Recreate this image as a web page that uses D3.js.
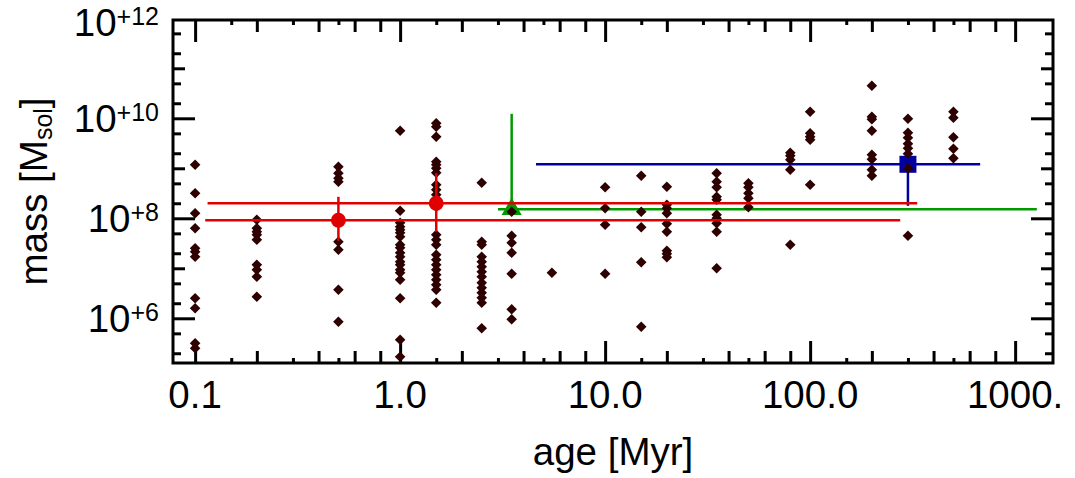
<!DOCTYPE html>
<html>
<head>
<meta charset="utf-8">
<script src="https://cdn.jsdelivr.net/npm/d3@7"></script>
<style>
  body { margin: 0; background: #fff; }
  text { font-family: "Liberation Sans", Arial, Helvetica, sans-serif; fill: #000; }
</style>
</head>
<body>
<svg id="chart" width="1075" height="478"></svg>
<script>
// age columns [Myr] and log10 of the masses in each column [Msol]
const ages = [0.1, 0.2, 0.5, 1.0, 1.5, 2.5, 3.5, 5.5, 10, 15, 20, 35, 50, 80, 100, 200, 300, 500];
const logMasses = [
    [9.07, 8.5, 8.1, 7.8, 7.4, 7.33, 7.23, 6.4, 6.2, 5.5, 5.4],
    [7.97, 7.8, 7.73, 7.67, 7.57, 7.07, 6.97, 6.83, 6.43],
    [9.03, 8.9, 8.8, 8.73, 7.97, 7.53, 7.37, 6.57, 5.93],
    [9.75, 8.15, 7.91, 7.83, 7.77, 7.71, 7.63, 7.47, 7.41, 7.31, 7.23, 7.13, 7.07, 6.97, 6.91, 6.77, 6.4, 5.57, 5.23],
    [9.9, 9.83, 9.63, 9.13, 9.07, 9.0, 8.91, 8.67, 8.57, 8.47, 8.37, 8.23, 7.67, 7.57, 7.47, 7.27, 7.17, 7.07, 6.97, 6.87, 6.77, 6.67, 6.57, 6.31],
    [8.71, 7.53, 7.47, 7.23, 7.13, 7.03, 6.93, 6.83, 6.71, 6.61, 6.51, 6.41, 6.31, 5.8],
    [8.13, 7.65, 7.51, 7.31, 6.89, 6.18, 5.98],
    [6.91],
    [8.62, 8.2, 7.87, 6.89],
    [8.85, 8.13, 7.82, 7.12, 5.83],
    [8.63, 8.27, 8.2, 8.1, 7.89, 7.73, 7.35, 7.29, 7.22],
    [8.9, 8.73, 8.62, 8.43, 8.37, 8.07, 8.0, 7.9, 7.73, 7.0],
    [8.7, 8.62, 8.5, 8.4, 8.22],
    [9.31, 9.25, 9.17, 8.97, 7.47],
    [10.13, 9.7, 9.63, 9.57, 8.67],
    [10.65, 10.03, 9.98, 9.75, 9.27, 9.18, 8.97, 8.85],
    [9.99, 9.71, 9.61, 9.49, 9.4, 9.29, 9.0, 7.65],
    [10.13, 10.01, 9.62, 9.39, 9.2]
];

// points with error bars (red, red, green, blue)
const errAge = [0.5, 1.5, 3.5, 300];
const errAgeLo = [0.112, 0.115, 3.0, 4.6];
const errAgeHi = [275, 333, 1276, 675];
const errLogMass = [7.96, 8.3, 8.18, 9.08];
const errLogMassLo = [7.55, 7.73, 8.18, 8.25];
const errLogMassHi = [8.43, 8.9, 10.09, 9.08];

// ticks
const xMajorTicks = [0.1, 1, 10, 100, 1000];
const xMajorLabels = ["0.1", "1.0", "10.0", "100.0", "1000."];
const xMidFactors = [2, 4, 6, 8];
const xSmallFactors = [1.5, 3, 5];
const yMajorTicks = [1e6, 1e8, 1e10, 1e12];
const yMajorExp = ["+6", "+8", "+10", "+12"];
const yMidTicks = [1e7, 1e9, 1e11];
const ySmallFactors = [2, 5];

const W = 1075, H = 478;
const plotL = 173, plotR = 1053, plotT = 20, plotB = 363;
const fontSize = 38.5, supSize = 25;
const diamondColor = "#2e0000";
const errColors = ["#e00000", "#e00000", "#009a00", "#0000a0"];

const svg = d3.select("#chart");
svg.append("rect").attr("width", W).attr("height", H).attr("fill", "#fff");

const x = d3.scaleLog().domain([0.078, 1530]).range([plotL, plotR]);
const y = d3.scaleLog().domain([1.276e5, 9.25e11]).range([plotB, plotT]);

const inX = v => x(v) > plotL + 3 && x(v) < plotR - 3;
const inY = v => y(v) < plotB - 3 && y(v) > plotT + 3;

const xMid = xMajorTicks.flatMap(d => xMidFactors.map(f => d * f)).concat(xMidFactors.map(f => 0.01 * f)).filter(inX);
const xSmall = xMajorTicks.flatMap(d => xSmallFactors.map(f => d * f)).concat(xSmallFactors.map(f => 0.01 * f)).filter(inX);
const yDecades = [1e5, 1e6, 1e7, 1e8, 1e9, 1e10, 1e11];
const ySmall = yDecades.flatMap(d => ySmallFactors.map(f => d * f)).filter(inY);

// tick marks, all pointing inward on four sides
function ticks(axisFn, scale, values, len, transform) {
    const g = svg.append("g")
        .attr("transform", transform)
        .call(axisFn(scale).tickValues(values).tickSize(-len).tickFormat(""));
    g.select(".domain").remove();
    g.selectAll("line").attr("stroke", "#000").attr("stroke-width", 3);
}
[[xMajorTicks.filter(inX), 22], [xMid, 12], [xSmall, 5]].forEach(([vals, len]) => {
    ticks(d3.axisBottom, x, vals, len, `translate(0,${plotB})`);
    ticks(d3.axisTop, x, vals, len, `translate(0,${plotT})`);
});
[[yMajorTicks.filter(inY), 22], [yMidTicks.filter(inY), 12], [ySmall, 8]].forEach(([vals, len]) => {
    ticks(d3.axisLeft, y, vals, len, `translate(${plotL},0)`);
    ticks(d3.axisRight, y, vals, len, `translate(${plotR},0)`);
});

svg.append("rect")
    .attr("x", plotL).attr("y", plotT)
    .attr("width", plotR - plotL).attr("height", plotB - plotT)
    .attr("fill", "none").attr("stroke", "#000").attr("stroke-width", 3);

// tick labels
svg.append("g").selectAll("text")
    .data(xMajorTicks)
    .join("text")
    .attr("x", d => x(d))
    .attr("y", 408)
    .attr("text-anchor", "middle")
    .attr("font-size", fontSize)
    .text((d, i) => xMajorLabels[i]);

const ylab = svg.append("g").selectAll("text")
    .data(yMajorTicks)
    .join("text")
    .attr("x", 159)
    .attr("y", d => Math.max(y(d) + 14, 36))
    .attr("text-anchor", "end")
    .attr("font-size", fontSize);
ylab.append("tspan").text("10");
ylab.append("tspan").attr("font-size", supSize).attr("dy", -11).text((d, i) => yMajorExp[i]);

// axis titles
svg.append("text")
    .attr("x", (plotL + plotR) / 2)
    .attr("y", 465)
    .attr("text-anchor", "middle")
    .attr("font-size", fontSize)
    .text("age [Myr]");

const yt = svg.append("text")
    .attr("transform", `translate(47,${(plotT + plotB) / 2}) rotate(-90)`)
    .attr("text-anchor", "middle")
    .attr("font-size", fontSize);
yt.append("tspan").text("mass [M");
yt.append("tspan").attr("font-size", supSize).attr("dy", 5).text("sol");
yt.append("tspan").attr("dy", -5).text("]");

// error bars and symbols
const errData = errAge.map((a, i) => ({
    age: a, lo: errAgeLo[i], hi: errAgeHi[i],
    m: Math.pow(10, errLogMass[i]),
    mlo: Math.pow(10, errLogMassLo[i]),
    mhi: Math.pow(10, errLogMassHi[i]),
    color: errColors[i], i: i
}));

function drawErr(d, g) {
    g.append("line")
        .attr("x1", x(d.lo)).attr("x2", x(d.hi))
        .attr("y1", y(d.m)).attr("y2", y(d.m))
        .attr("stroke", d.color).attr("stroke-width", 2.5);
    g.append("line")
        .attr("x1", x(d.age)).attr("x2", x(d.age))
        .attr("y1", y(d.mlo)).attr("y2", y(d.mhi))
        .attr("stroke", d.color).attr("stroke-width", 2.5);
    let sym;
    if (d.i < 2) sym = d3.symbol(d3.symbolCircle, Math.PI * 7.5 * 7.5);
    else if (d.i === 2) sym = d3.symbol(d3.symbolTriangle, 175);
    else sym = d3.symbol(d3.symbolSquare, 17 * 17);
    g.append("path")
        .attr("d", sym())
        .attr("transform", `translate(${x(d.age)},${y(d.m)})`)
        .attr("fill", d.color);
}

const under = svg.append("g");
errData.filter(d => d.i >= 2).forEach(d => drawErr(d, under));

// scattered points
const pts = ages.flatMap((a, i) => logMasses[i].map(v => ({ age: a, mass: Math.pow(10, v) })));
svg.append("g").selectAll("path")
    .data(pts)
    .join("path")
    .attr("d", d3.symbol(d3.symbolSquare, 56)())
    .attr("transform", d => `translate(${x(d.age)},${y(d.mass)}) rotate(45)`)
    .attr("fill", diamondColor);

const over = svg.append("g");
errData.filter(d => d.i < 2).forEach(d => drawErr(d, over));
</script>
</body>
</html>
